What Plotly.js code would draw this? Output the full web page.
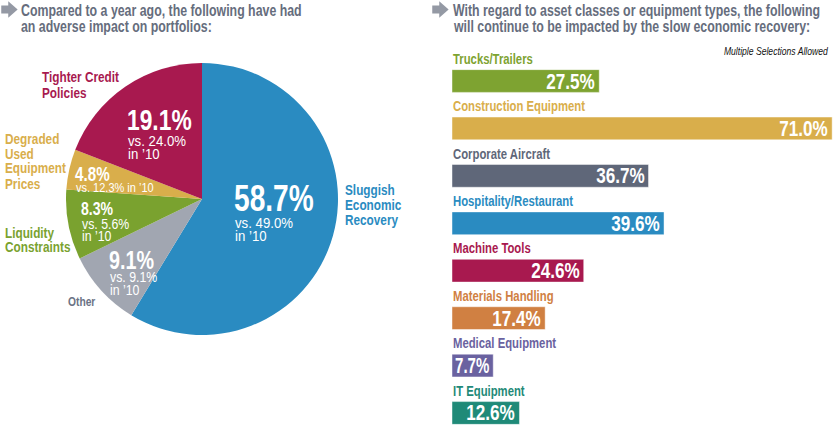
<!DOCTYPE html>
<html>
<head>
<meta charset="utf-8">
<script src="https://cdn.plot.ly/plotly-3.0.1.min.js"></script>
<style>
  html, body { margin: 0; padding: 0; background: #ffffff; }
  #chart { width: 839px; height: 430px; }
</style>
</head>
<body>
<div id="chart"></div>
<script>
// Left panel: share of respondents citing each adverse factor (2011 vs. 2010)
const pieLabels = ['Sluggish Economic Recovery', 'Other', 'Liquidity Constraints', 'Degraded Used Equipment Prices', 'Tighter Credit Policies'];
const pieValues = [58.7, 9.1, 8.3, 4.8, 19.1];
const priorValues = [49.0, 9.1, 5.6, 12.3, 24.0];
const pieColors = ['#2a8bc1', '#a1a6b1', '#7aa22f', '#d9ae4b', '#a8194f'];
const pieLabelColors = ['#2a8bc1', '#6b7385', '#7aa22f', '#d9ae4b', '#a8194f'];

// Right panel: asset classes still impacted by the slow recovery
const barCategories = ['Trucks/Trailers', 'Construction Equipment', 'Corporate Aircraft', 'Hospitality/Restaurant', 'Machine Tools', 'Materials Handling', 'Medical Equipment', 'IT Equipment'];
const barValues = [27.5, 71.0, 36.7, 39.6, 24.6, 17.4, 7.7, 12.6];
const barColors = ['#7ea331', '#d9ae4b', '#5f6779', '#2a8bc1', '#a8194f', '#d08042', '#6a62a0', '#1f8a78'];

const W = 839, H = 430;
// Narrow grotesque look: a regular sans, horizontally condensed after drawing
const COND = 'Liberation Sans';
const TITLE_GRAY = '#666d7d';
const ARROW_GRAY = '#9499a4';

const px = x => x / W;
const py = y => 1 - y / H;

const annotations = [];
const squeeze = [];          // horizontal squeeze factor per annotation
const fitBar = [];           // bar value a label must fit inside, if any
function text(str, x, y, size, color, weight, ratio, opts) {
  annotations.push(Object.assign({
    xref: 'paper', yref: 'paper', x: px(x), y: py(y),
    xanchor: 'left', yanchor: 'middle', align: 'left', showarrow: false,
    text: str, font: { family: COND, size: size, color: color, weight: weight }
  }, opts || {}));
  squeeze.push(ratio);
  fitBar.push(null);
}
function lines(arr, x, y0, pitch, size, color, weight, ratio) {
  arr.forEach((s, i) => text(s, x, y0 + i * pitch, size, color, weight, ratio));
}

// Section headings
lines(['Compared to a year ago, the following have had', 'an adverse impact on portfolios:'], 19, 10, 17, 16.7, TITLE_GRAY, 700, 0.74);
lines(['With regard to asset classes or equipment types, the following', 'will continue to be impacted by the slow economic recovery:'], 451, 10, 17, 16.7, TITLE_GRAY, 700, 0.74);
text('<i>Multiple Selections Allowed</i>', 830, 51, 10, '#111111', 400, 0.86, { xanchor: 'right', align: 'right' });

// Outside pie labels, split into display lines
const pieLabelLines = [
  ['Sluggish', 'Economic', 'Recovery'],
  ['Other'],
  ['Liquidity', 'Constraints'],
  ['Degraded', 'Used', 'Equipment', 'Prices'],
  ['Tighter Credit', 'Policies']
];
const pieLabelPos = [[343, 189, 15], [66, 301, 15], [3, 232, 14.5], [3, 138, 15], [40, 77, 15]];
pieLabelLines.forEach((ls, i) => {
  const p = pieLabelPos[i];
  lines(ls, p[0], p[1], p[2], i === 1 ? 13.5 : 15.5, pieLabelColors[i], 700, 0.76);
});

// In-slice value labels: [x, y of big figure, big size, y of first sub-line, sub pitch, sub size, single-line]
const sliceTextPos = [
  [232, 198, 37, 222, 13, 15, false],
  [107, 259.5, 26, 277, 12.5, 14, false],
  [79, 209, 18.5, 223.5, 12, 14, false],
  [73, 174, 20, 187.5, 0, 12.5, true],
  [125, 119.5, 30, 140, 13, 15, false]
];
pieValues.forEach((v, i) => {
  const s = sliceTextPos[i];
  text(v.toFixed(1) + '%', s[0], s[1], s[2], '#ffffff', 700, 0.76);
  const sub = s[6] ? ['vs. ' + priorValues[i].toFixed(1) + '% in \u201910']
                   : ['vs. ' + priorValues[i].toFixed(1) + '%', 'in \u201910'];
  lines(sub, s[0] + 1, s[3], s[4], s[5], '#ffffff', 400, 0.88);
});

// Bar category labels above each bar, value labels at each bar's end
barCategories.forEach((c, i) => {
  annotations.push({
    xref: 'x', yref: 'y', x: 0, y: i - 0.47, xanchor: 'left', yanchor: 'middle', align: 'left',
    xshift: -1, showarrow: false, text: c,
    font: { family: COND, size: 14.5, color: barColors[i], weight: 700 }
  });
  squeeze.push(0.78);
  fitBar.push(null);
  annotations.push({
    xref: 'x', yref: 'y', x: barValues[i], y: i, xanchor: 'right', yanchor: 'middle', align: 'right',
    xshift: -2, showarrow: false, text: barValues[i].toFixed(1) + '%',
    font: { family: COND, size: 22.5, color: '#ffffff', weight: 700 }
  });
  squeeze.push(0.76);
  fitBar.push(barValues[i]);
});

// Block-arrow bullets in front of the two headings
function arrowPath(x0, yc) {
  const pts = [[x0, yc - 3.2], [x0 + 7, yc - 3.2], [x0 + 7, yc - 6.5], [x0 + 14.5, yc], [x0 + 7, yc + 6.5], [x0 + 7, yc + 3.2], [x0, yc + 3.2]];
  return 'M' + pts.map(p => px(p[0]).toFixed(5) + ',' + py(p[1]).toFixed(5)).join('L') + 'Z';
}
const shapes = [2, 433].map(x0 => ({
  type: 'path', xref: 'paper', yref: 'paper', path: arrowPath(x0, 9.5),
  fillcolor: ARROW_GRAY, line: { color: ARROW_GRAY, width: 1.5 }, layer: 'above'
}));

const pieTrace = {
  type: 'pie',
  labels: pieLabels,
  values: pieValues,
  sort: false,
  direction: 'clockwise',
  rotation: 0,
  textinfo: 'none',
  marker: { colors: pieColors, line: { width: 0 } },
  domain: { x: [px(66), px(338)], y: [py(335), py(63)] },
  showlegend: false
};

const barTrace = {
  type: 'bar',
  orientation: 'h',
  x: barValues,
  y: barCategories.map((_, i) => i),
  width: 0.48,
  marker: { color: barColors, line: { color: 'rgba(255,255,255,0.45)', width: 1 } },
  textposition: 'none',
  showlegend: false,
  xaxis: 'x', yaxis: 'y'
};

const layout = {
  width: W, height: H,
  margin: { l: 0, r: 0, t: 0, b: 0, pad: 0 },
  paper_bgcolor: '#ffffff', plot_bgcolor: 'rgba(0,0,0,0)',
  showlegend: false,
  xaxis: { domain: [px(452), px(837.5)], range: [0, 72], visible: false, fixedrange: true },
  yaxis: { domain: [py(427.2), py(57.3)], range: [7.3, -0.5], visible: false, fixedrange: true },
  annotations: annotations,
  shapes: shapes,
  bargap: 0
};

// Squeeze each annotation's glyphs horizontally (never wider than its bar) and shrink its box to match
function condense(gd) {
  const xa = gd._fullLayout.xaxis;
  gd.querySelectorAll('.annotation').forEach(g => {
    const i = +g.getAttribute('data-index');
    const ratio = squeeze[i];
    const t = g.querySelector('.annotation-text');
    if (!t || !ratio) return;
    let target = t.getComputedTextLength() * ratio;
    if (fitBar[i] !== null) {
      const barPx = xa.l2p(fitBar[i]) - xa.l2p(0);
      target = Math.min(target, barPx - 7);
    }
    t.setAttribute('textLength', target.toFixed(2));
    t.setAttribute('lengthAdjust', 'spacingAndGlyphs');
    const bb = t.getBBox();
    const r = g.querySelector('rect.bg');
    if (r) {
      r.setAttribute('x', (bb.x - 1).toFixed(2));
      r.setAttribute('width', (bb.width + 2).toFixed(2));
    }
  });
}

Plotly.newPlot('chart', [pieTrace, barTrace], layout, { displayModeBar: false, staticPlot: true })
  .then(gd => condense(gd));
</script>
</body>
</html>
